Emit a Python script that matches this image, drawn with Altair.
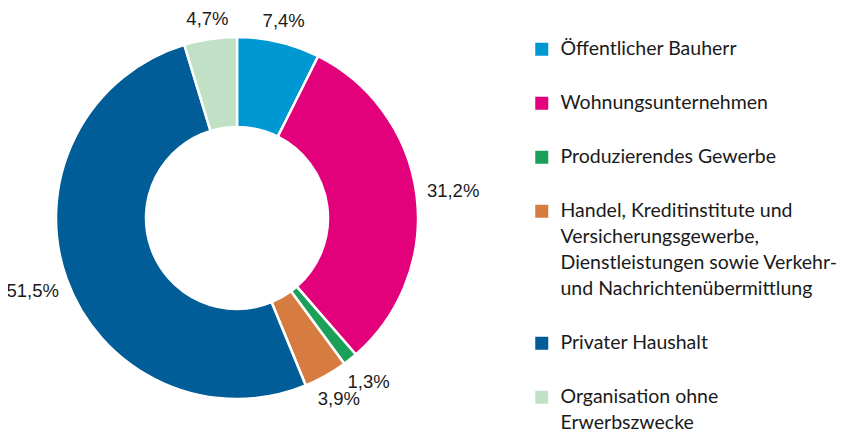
import altair as alt
import pandas as pd

categories = [
    "Öffentlicher Bauherr",
    "Wohnungsunternehmen",
    "Produzierendes Gewerbe",
    "Handel, Kreditinstitute und\nVersicherungsgewerbe,\nDienstleistungen sowie Verkehr-\nund Nachrichtenübermittlung",
    "Privater Haushalt",
    "Organisation ohne\nErwerbszwecke",
]
values = [7.4, 31.2, 1.3, 3.9, 51.5, 4.7]
labels = ["7,4%", "31,2%", "1,3%", "3,9%", "51,5%", "4,7%"]
colors = ["#0098D3", "#E3007B", "#1BA05A", "#D77C40", "#005D97", "#C1E1C7"]

df = pd.DataFrame({
    "cat": categories,
    "value": values,
    "label": labels,
    "idx": list(range(len(values))),
})

color = alt.Color(
    "cat:N",
    scale=alt.Scale(domain=categories, range=colors),
    legend=alt.Legend(
        title=None,
        orient="none",
        legendX=524,
        legendY=31.5,
        symbolType="square",
        symbolSize=169,
        symbolStrokeWidth=0,
        labelExpr="split(datum.label, '\\n')",
        labelFont="Lato",
        labelFontSize=19.5,
        labelColor="#1a1a1a",
        labelLimit=400,
        labelOffset=9,
        rowPadding=33,
        padding=0,
    ),
)

arcs = alt.Chart(df).mark_arc(
    outerRadius=181, innerRadius=91, stroke="white", strokeWidth=2.5
).encode(
    theta=alt.Theta("value:Q", stack=True),
    order=alt.Order("idx:Q"),
    color=color,
    x=alt.value(229),
    y=alt.value(210),
)

text = alt.Chart(df).transform_joinaggregate(
    total="sum(value)"
).transform_window(
    cum="sum(value)", sort=[alt.SortField("idx")]
).transform_calculate(
    mid="(datum.cum - datum.value / 2) / datum.total * 2 * PI",
    r="198 + 20 * abs(sin(datum.mid))",
).mark_text(
    font="Liberation Sans", fontSize=18.5, color="#1a1a1a", baseline="middle", align="center"
).encode(
    text="label:N",
    theta=alt.Theta("mid:Q", scale=None, stack=False),
    radius=alt.Radius("r:Q", scale=None),
    x=alt.value(229),
    y=alt.value(210),
)

chart = alt.layer(arcs, text).resolve_scale(theta="independent").properties(
    width=830, height=424, autosize=alt.AutoSizeParams(type="none"), padding=0
).configure(
    view={"stroke": None},
    style={"guide-label": {"lineHeight": 26}},
)

chart.save("out.html", embed_options={"renderer": "svg", "actions": False})
